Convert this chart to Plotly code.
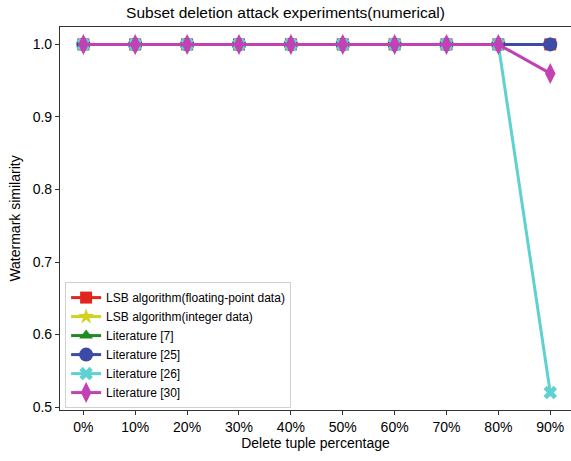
import plotly.graph_objects as go

categories = ["0%", "10%", "20%", "30%", "40%", "50%", "60%", "70%", "80%", "90%"]
lsb_float = [1.0, 1.0, 1.0, 1.0, 1.0, 1.0, 1.0, 1.0, 1.0, 1.0]
lsb_int = [1.0, 1.0, 1.0, 1.0, 1.0, 1.0, 1.0, 1.0, 1.0, 1.0]
lit7 = [1.0, 1.0, 1.0, 1.0, 1.0, 1.0, 1.0, 1.0, 1.0, 1.0]
lit25 = [1.0, 1.0, 1.0, 1.0, 1.0, 1.0, 1.0, 1.0, 1.0, 1.0]
lit26 = [1.0, 1.0, 1.0, 1.0, 1.0, 1.0, 1.0, 1.0, 1.0, 0.52]
lit30 = [1.0, 1.0, 1.0, 1.0, 1.0, 1.0, 1.0, 1.0, 1.0, 0.96]

series = [
    ("LSB algorithm(floating-point data)", lsb_float, "#e3261d", "square", 12),
    ("LSB algorithm(integer data)", lsb_int, "#d2d21e", "star", 12),
    ("Literature [7]", lit7, "#1f8a24", "triangle-up", 12),
    ("Literature [25]", lit25, "#3d4aa6", "circle", 14),
    ("Literature [26]", lit26, "#5fd1d1", "x", 12),
    ("Literature [30]", lit30, "#c241b3", "diamond-tall", 15),
]

x = list(range(len(categories)))
fig = go.Figure()
for name, vals, color, sym, size in series:
    fig.add_trace(go.Scatter(
        x=x, y=vals, name=name, mode="lines+markers",
        line=dict(color=color, width=3),
        marker=dict(symbol=sym, size=size, color=color),
    ))

fig.update_layout(
    width=571, height=461,
    margin=dict(l=60, r=0, t=27, b=51),
    plot_bgcolor="white", paper_bgcolor="white",
    font=dict(family="Liberation Sans, Arial, sans-serif", color="black", size=14),
    title=dict(text="Subset deletion attack experiments(numerical)", x=0.5, xanchor="center",
               y=0.985, yanchor="top", font=dict(size=15.5)),
    legend=dict(x=0.01, y=0.005, xanchor="left", yanchor="bottom",
                bordercolor="#d0d0d0", borderwidth=1, bgcolor="rgba(255,255,255,0.85)",
                font=dict(size=12), itemwidth=30, tracegroupgap=0),
    showlegend=True,
)
fig.update_xaxes(
    range=[-0.45, 9.4], tickvals=x, ticktext=categories,
    showline=True, linecolor="#333", linewidth=1.2, mirror=True,
    ticks="outside", ticklen=4, tickcolor="#333", showgrid=False, zeroline=False,
    title=dict(text="Delete tuple percentage", standoff=4, font=dict(size=14)),
)
fig.update_yaxes(
    range=[0.496, 1.024], tickvals=[0.5, 0.6, 0.7, 0.8, 0.9, 1.0],
    ticktext=["0.5", "0.6", "0.7", "0.8", "0.9", "1.0"],
    showline=True, linecolor="#333", linewidth=1.2, mirror=True,
    ticks="outside", ticklen=4, tickcolor="#333", showgrid=False, zeroline=False,
    title=dict(text="Watermark similarity", standoff=8, font=dict(size=14)),
)
fig.write_html("out.html")
